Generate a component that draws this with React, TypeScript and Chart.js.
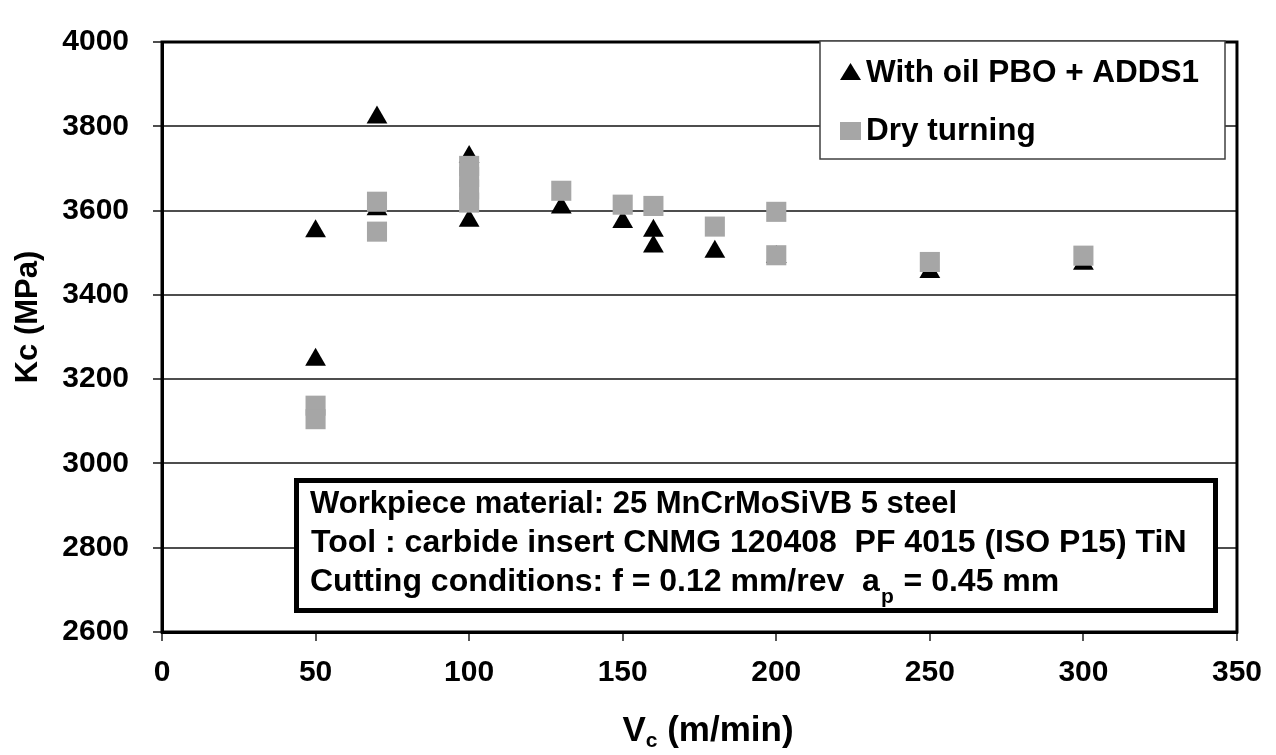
import React, { useEffect, useRef } from "react";
import { Chart, registerables } from "chart.js";

Chart.register(...registerables);

// ---- data ----
const seriesLabels = ["With oil PBO + ADDS1", "Dry turning"];
const withOilX = [50, 50, 70, 70, 100, 100, 130, 150, 160, 160, 180, 200, 250, 300];
const withOilY = [3551, 3246, 3821, 3603, 3727, 3576, 3607, 3573, 3552, 3515, 3502, 3490, 3454, 3474];
const dryX = [50, 50, 70, 70, 100, 100, 100, 100, 130, 150, 160, 180, 200, 200, 250, 300];
const dryY = [3137, 3105, 3621, 3550, 3706, 3680, 3650, 3619, 3647, 3614, 3611, 3562, 3597, 3494, 3478, 3493];
const xTicks = [0, 50, 100, 150, 200, 250, 300, 350];
const yTicks = [2600, 2800, 3000, 3200, 3400, 3600, 3800, 4000];
const xTitleMain = "V";
const xTitleSub = "c";
const xTitleRest = " (m/min)";
const yTitle = "Kc (MPa)";
const noteLine1 = "Workpiece material: 25 MnCrMoSiVB 5 steel";
const noteLine2 = "Tool : carbide insert CNMG 120408  PF 4015 (ISO P15) TiN";
const noteLine3a = "Cutting conditions: f = 0.12 mm/rev  a";
const noteLine3sub = "p";
const noteLine3b = " = 0.45 mm";

const FONT = "'Liberation Sans', Arial, sans-serif";
const TRI_COLOR = "#000000";
const SQ_COLOR = "#a6a6a6";

const overlay = {
  id: "overlay",
  afterDraw(chart: any) {
    const ctx: CanvasRenderingContext2D = chart.ctx;
    const a = chart.chartArea;
    ctx.save();
    // plot frame
    ctx.strokeStyle = "#000";
    ctx.lineWidth = 3;
    ctx.strokeRect(a.left, a.top, a.right - a.left, a.bottom - a.top);

    // axis titles
    ctx.fillStyle = "#000";
    ctx.textBaseline = "alphabetic";
    ctx.textAlign = "left";
    ctx.font = `bold 35px ${FONT}`;
    const wV = ctx.measureText(xTitleMain).width;
    ctx.font = `bold 21px ${FONT}`;
    const wc = ctx.measureText(xTitleSub).width;
    ctx.font = `bold 35px ${FONT}`;
    const wr = ctx.measureText(xTitleRest).width;
    const total = wV + wc + wr;
    const x0 = 708 - total / 2;
    const by = 741;
    ctx.fillText(xTitleMain, x0, by);
    ctx.font = `bold 21px ${FONT}`;
    ctx.fillText(xTitleSub, x0 + wV, by + 6);
    ctx.font = `bold 35px ${FONT}`;
    ctx.fillText(xTitleRest, x0 + wV + wc, by);

    ctx.save();
    ctx.translate(28, 317);
    ctx.rotate(-Math.PI / 2);
    ctx.textAlign = "center";
    ctx.textBaseline = "middle";
    ctx.font = `bold 31px ${FONT}`;
    ctx.fillText(yTitle, 0, 0);
    ctx.restore();

    // legend
    const ds = chart.data.datasets;
    ctx.fillStyle = "#fff";
    ctx.fillRect(820, 41, 405, 118);
    ctx.strokeStyle = "#404040";
    ctx.lineWidth = 1.5;
    ctx.strokeRect(820, 41, 405, 118);
    // triangle marker
    ctx.fillStyle = ds[0].backgroundColor;
    ctx.beginPath();
    ctx.moveTo(850.5, 63);
    ctx.lineTo(861, 80);
    ctx.lineTo(840, 80);
    ctx.closePath();
    ctx.fill();
    // square marker
    ctx.fillStyle = ds[1].backgroundColor;
    ctx.fillRect(840, 122, 21, 18);
    ctx.fillStyle = "#000";
    ctx.textAlign = "left";
    ctx.textBaseline = "alphabetic";
    ctx.font = `bold 31.5px ${FONT}`;
    ctx.fillText(ds[0].label, 866, 82);
    ctx.fillText(ds[1].label, 866, 140);

    // annotation box
    ctx.fillStyle = "#fff";
    ctx.fillRect(296, 480, 920, 131);
    ctx.strokeStyle = "#000";
    ctx.lineWidth = 5;
    ctx.strokeRect(296.5, 480.5, 919, 130);
    ctx.fillStyle = "#000";
    ctx.font = `bold 31px ${FONT}`;
    ctx.fillText(noteLine1, 310, 513);
    ctx.font = `bold 32px ${FONT}`;
    ctx.fillText(noteLine2, 311, 552);
    ctx.fillText(noteLine3a, 310, 591);
    const w3 = ctx.measureText(noteLine3a).width;
    ctx.font = `bold 21px ${FONT}`;
    ctx.fillText(noteLine3sub, 310 + w3 + 1, 603);
    const ws = ctx.measureText(noteLine3sub).width;
    ctx.font = `bold 32px ${FONT}`;
    ctx.fillText(noteLine3b, 310 + w3 + ws + 2, 591);
    ctx.restore();
  },
};

export default function App() {
  const ref = useRef<HTMLCanvasElement | null>(null);
  useEffect(() => {
    if (!ref.current) return;
    const chart = new Chart(ref.current, {
      type: "scatter",
      data: {
        datasets: [
          {
            label: seriesLabels[0],
            data: withOilX.map((x, i) => ({ x, y: withOilY[i] })),
            pointStyle: "triangle",
            pointRadius: 12,
            pointHoverRadius: 12,
            backgroundColor: TRI_COLOR,
            borderColor: TRI_COLOR,
            borderWidth: 0,
            order: 1,
          },
          {
            label: seriesLabels[1],
            data: dryX.map((x, i) => ({ x, y: dryY[i] })),
            pointStyle: "rect",
            pointRadius: 14.2,
            pointHoverRadius: 14.2,
            backgroundColor: SQ_COLOR,
            borderColor: SQ_COLOR,
            borderWidth: 0,
            order: 0,
          },
        ],
      },
      options: {
        responsive: false,
        animation: false,
        devicePixelRatio: 1,
        layout: { padding: { left: 0, right: 39, top: 22, bottom: 0 } },
        plugins: { legend: { display: false }, tooltip: { enabled: false } },
        events: [],
        scales: {
          x: {
            type: "linear",
            min: xTicks[0],
            max: xTicks[xTicks.length - 1],
            ticks: {
              stepSize: xTicks[1] - xTicks[0],
              color: "#000",
              font: { family: FONT, size: 30, weight: "bold" },
              padding: 14,
              maxRotation: 0,
              callback: (v: any) => String(v),
            },
            grid: { drawOnChartArea: false, drawTicks: true, tickLength: 9, color: "#555", lineWidth: 2 },
            border: { color: "#000", width: 3 },
            afterFit: (s: any) => {
              s.height = 123;
            },
          },
          y: {
            type: "linear",
            min: yTicks[0],
            max: yTicks[yTicks.length - 1],
            ticks: {
              stepSize: yTicks[1] - yTicks[0],
              color: "#000",
              font: { family: FONT, size: 30, weight: "bold" },
              padding: 24,
              callback: (v: any) => String(v),
            },
            grid: { drawOnChartArea: true, drawTicks: true, tickLength: 9, color: "#4d4d4d", lineWidth: 2 },
            border: { color: "#000", width: 3 },
            afterFit: (s: any) => {
              s.width = 162;
            },
          },
        },
      },
      plugins: [overlay],
    } as any);
    return () => chart.destroy();
  }, []);
  return (
    <div style={{ position: "fixed", left: 0, top: 0, width: 1276, height: 755, background: "#fff" }}>
      <canvas ref={ref} width={1276} height={755} style={{ width: 1276, height: 755, display: "block" }} />
    </div>
  );
}
